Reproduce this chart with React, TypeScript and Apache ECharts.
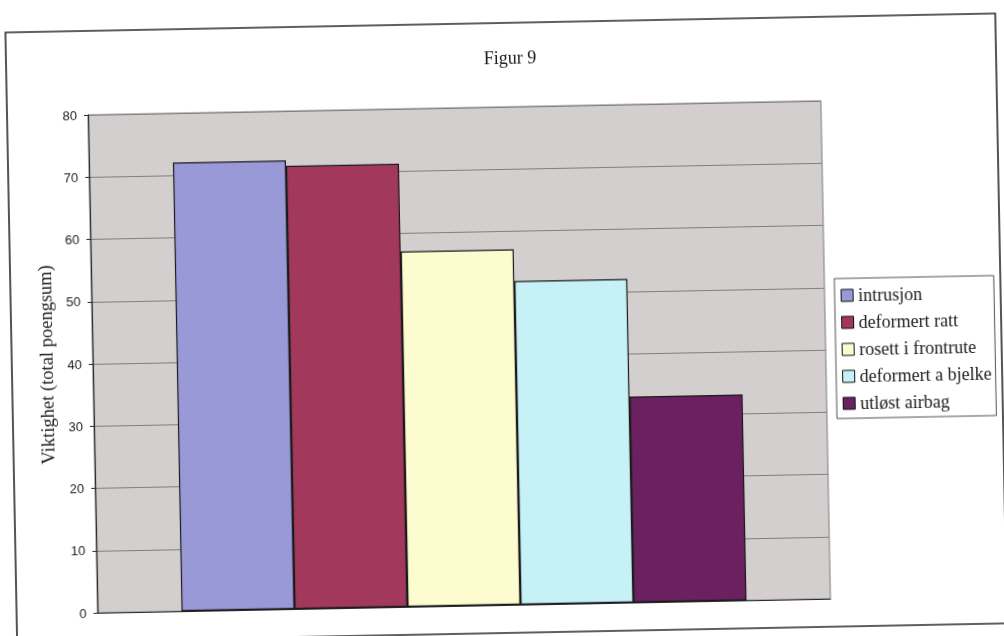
import { useEffect, useRef } from "react";
import * as echarts from "echarts";

// Figure data: one category, one bar per factor
const categories = [""];
const seriesNames = [
  "intrusjon",
  "deformert ratt",
  "rosett i frontrute",
  "deformert a bjelke",
  "utløst airbag",
];
const seriesValues = [72.1, 71.2, 57.1, 52.0, 33.1];
const seriesColors = ["#9a99d8", "#a2385c", "#fdfcd0", "#c6f2f7", "#6b2160"];

const yMin = 0;
const yMax = 80;
const yStep = 10;

const titleText = "Figur 9";
const yAxisTitle = "Viktighet (total poengsum)";

const SERIF = "'Liberation Serif', 'Times New Roman', serif";
const SANS = "'Liberation Sans', Arial, sans-serif";

export default function App() {
  const ref = useRef<HTMLDivElement>(null);

  useEffect(() => {
    document.documentElement.style.overflow = "hidden";
    document.body.style.overflow = "hidden";
    if (!ref.current) return;
    const chart = echarts.init(ref.current, undefined, { renderer: "svg" });

    const series = seriesNames.map((name, i) => ({
      name,
      type: "bar" as const,
      data: [seriesValues[i]],
      barGap: "0%",
      barCategoryGap: "22.9%",
      itemStyle: {
        color: seriesColors[i],
        borderColor: "#1a1a1a",
        borderWidth: 1.2,
      },
      emphasis: { disabled: true },
    }));

    chart.setOption({
      animation: false,
      backgroundColor: "#ffffff",
      title: {
        text: titleText,
        left: 515,
        top: 49,
        textAlign: "center",
        padding: 0,
        textStyle: {
          fontFamily: SERIF,
          fontSize: 18,
          fontWeight: "normal",
          color: "#1a1a1a",
        },
      },
      grid: {
        left: 92,
        right: 179,
        top: 107,
        bottom: 31,
        show: true,
        backgroundColor: "#d2cfce",
        borderColor: "#7d7d7d",
        borderWidth: 1,
      },
      legend: {
        orient: "vertical",
        left: 835,
        top: 285,
        padding: [8, 4, 6, 6],
        itemWidth: 12,
        itemHeight: 12,
        itemGap: 9,
        icon: "rect",
        selectedMode: false,
        backgroundColor: "#ffffff",
        borderColor: "#555555",
        borderWidth: 1,
        itemStyle: { borderColor: "#111111", borderWidth: 1 },
        textStyle: {
          fontFamily: SERIF,
          fontSize: 18,
          lineHeight: 18,
          color: "#1a1a1a",
        },
        data: seriesNames,
      },
      xAxis: {
        type: "category",
        data: categories,
        axisLine: { show: true, lineStyle: { color: "#2a2a2a", width: 1.2 } },
        axisTick: { show: false },
        axisLabel: { show: false },
        splitLine: { show: false },
      },
      yAxis: {
        type: "value",
        min: yMin,
        max: yMax,
        interval: yStep,
        name: yAxisTitle,
        nameLocation: "middle",
        nameRotate: 90,
        nameGap: 36,
        nameTextStyle: {
          fontFamily: SERIF,
          fontSize: 18.5,
          color: "#1a1a1a",
        },
        axisLine: { show: true, lineStyle: { color: "#2a2a2a", width: 1.2 } },
        axisTick: { show: true, length: 4, lineStyle: { color: "#2a2a2a" } },
        axisLabel: {
          margin: 11,
          fontFamily: SANS,
          fontSize: 13,
          color: "#222222",
        },
        splitLine: { show: true, lineStyle: { color: "#7f7f7f", width: 1 } },
      },
      graphic: [
        {
          type: "rect",
          silent: true,
          z: 100,
          shape: { x: 11, y: 23, width: 990, height: 610 },
          style: { fill: "none", stroke: "#2b2b2b", lineWidth: 1.6 },
        },
      ],
      series,
    });

    return () => {
      chart.dispose();
    };
  }, []);

  return (
    <div
      style={{
        position: "fixed",
        left: 0,
        top: 0,
        width: 1004,
        height: 636,
        transform: "rotate(-1.1deg)",
        transformOrigin: "50% 50%",
      }}
    >
      <div ref={ref} style={{ width: 1004, height: 636 }} />
    </div>
  );
}
